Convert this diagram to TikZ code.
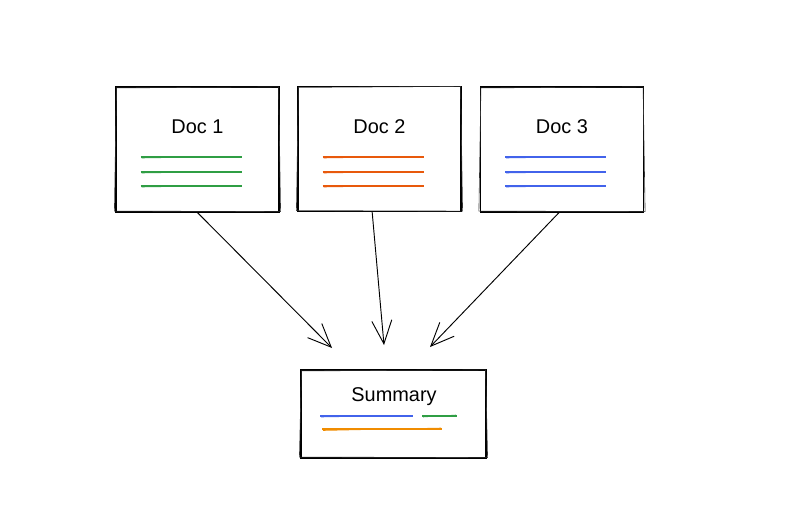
\documentclass[tikz,border=0pt]{standalone}
\usepackage{fontspec}
\setmainfont{Liberation Sans}
\usepackage{xcolor}
\usetikzlibrary{arrows.meta}

\definecolor{pengreen}{HTML}{2F9E44}
\definecolor{penred}{HTML}{E8590C}
\definecolor{penblue}{HTML}{4263EB}
\definecolor{penorange}{HTML}{F08C00}

\tikzset{
  docbox/.style={draw, line width=1pt, inner sep=0pt,
    minimum width=4.89cm, minimum height=3.75cm},
  sumbox/.style={draw, line width=1pt, inner sep=0pt,
    minimum width=5.55cm, minimum height=2.64cm},
  sketch/.style={line width=0.5pt, black!80},
  title/.style={font=\fontsize{17}{20}\selectfont},
  ink/.style={line width=1.1pt},
  flow/.style={line width=0.8pt, -{Straight Barb[length=7mm,width=6mm,line width=0.8pt]}}
}

\begin{document}
\begin{tikzpicture}[x=0.03cm, y=-0.03cm]

    \useasboundingbox (0,0) rectangle (810,528);
          % Page in pixel units, y pointing down.

    \node[docbox] (doc1) at (197.5,149.5) {};
    \node[docbox] (doc2) at (379.5,149) {};
    \node[docbox] (doc3) at (562,149.5) {};
    \node[sumbox] (sum) at (393.5,414) {};

    \foreach \b in {doc1,doc2,doc3,sum}{% second pencil stroke round each box
      \draw[sketch] ([shift={(1,1.5)}]\b.north west) -- ([shift={(-1,0.5)}]\b.north east)
                    -- ([shift={(1,-1)}]\b.south east) -- ([shift={(-1,-1.5)}]\b.south west) -- cycle;
    }

		\node[title] (title1) at (197.5,127) {Doc 1};
		\node[title] (title2) at (379.5,127) {Doc 2};
		\node[title] (title3) at (562,127) {Doc 3};
		\node[title] (titlesum) at (394,397) {Summary};

    \foreach \b/\c in {doc1/pengreen,doc2/penred,doc3/penblue}{% Three text lines per doc
      \foreach \y in {157,172,186}{
        \draw[ink,\c] ([xshift=-57*0.03cm]\b.center |- 0,\y) -- ([xshift=44*0.03cm]\b.center |- 0,\y);
        \draw[sketch,\c] ([xshift=-56*0.03cm]\b.center |- 0,\y+1) -- ([xshift=43*0.03cm]\b.center |- 0,\y-0.5);
      }
    }

		% lines of the summary
		\draw[ink,penblue] (320,416) -- (413,416);
		\draw[sketch,penblue] (321,417) -- (412,415.5);
		\draw[ink,pengreen] (422,416) -- (457,416);
		\draw[sketch,pengreen] (423,417) -- (456,415);
		\draw[ink,penorange] (322,429) -- (442,429);
		\draw[sketch,penorange] (323,430.5) -- (441,428);

		\coordinate (tip1) at (332,348);
		\coordinate (tip2) at (384,345);
		\coordinate (tip3) at (430,347);

		\draw[flow] (doc1.south) -- (tip1);
		\draw[flow] ([xshift=-0.22cm]doc2.south) -- (tip2);
		\draw[flow] ([xshift=-0.09cm]doc3.south) -- (tip3);

		\end{tikzpicture}
\end{document}
